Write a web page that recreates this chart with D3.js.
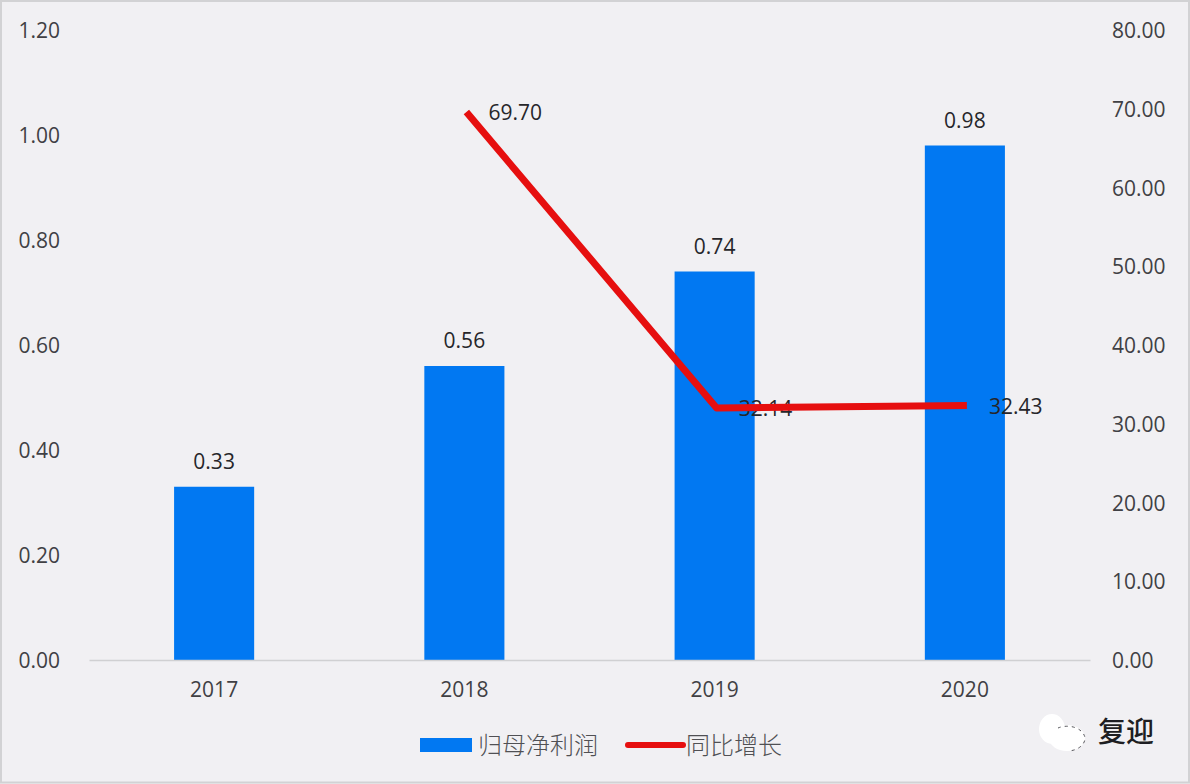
<!DOCTYPE html>
<html><head><meta charset="utf-8">
<script src="https://cdn.jsdelivr.net/npm/d3@7/dist/d3.min.js"></script>
<style>html,body{margin:0;padding:0;background:#f1f0f3}svg{display:block}text{font-family:"Open Sans","Noto Sans CJK SC",sans-serif}</style>
</head><body><svg id="c" width="1190" height="784"></svg>
<script>
const years=["2017","2018","2019","2020"];
const profit=[0.33,0.56,0.74,0.98];
const growth=[null,69.70,32.14,32.43];
const leftTicks=[0,0.2,0.4,0.6,0.8,1.0,1.2];
const rightTicks=[0,10,20,30,40,50,60,70,80];
const seriesNames=["归母净利润","同比增长"];
const watermark="复迎";

const svg=d3.select("#c");
const textCol="#404044";
svg.append("rect").attr("x",0).attr("y",0).attr("width",1190).attr("height",784).attr("fill","#f1f0f3");
svg.append("rect").attr("x",1).attr("y",1).attr("width",1188).attr("height",781.5).attr("fill","none").attr("stroke","#d2d2d4").attr("stroke-width",2);

const x=d3.scaleBand().domain(years).range([89,1090]).paddingInner(0.68).paddingOuter(0.34);
const yL=d3.scaleLinear().domain([0,1.2]).range([660,30]);
const yR=d3.scaleLinear().domain([0,80]).range([660,30]);

svg.append("g").selectAll("rect").data(years).join("rect")
 .attr("x",d=>x(d)).attr("width",x.bandwidth())
 .attr("y",(d,i)=>yL(profit[i])).attr("height",(d,i)=>660-yL(profit[i]))
 .attr("fill","#0178f2");

// axes
const axB=svg.append("g").attr("transform","translate(0,660)").call(d3.axisBottom(x).tickSize(0).tickPadding(20));
axB.select(".domain").attr("stroke","#d0d0d2").attr("stroke-width",1.5);
axB.selectAll("text").attr("font-size",21).attr("fill",textCol).attr("dy","0.32em").attr("y",30);
const axL=svg.append("g").attr("transform","translate(60,1)").call(d3.axisLeft(yL).tickValues(leftTicks).tickSize(0).tickPadding(0).tickFormat(d3.format(".2f")));
axL.select(".domain").remove();
axL.selectAll("text").attr("font-size",21).attr("fill",textCol);
const axR=svg.append("g").attr("transform","translate(1112,1)").call(d3.axisRight(yR).tickValues(rightTicks).tickSize(0).tickPadding(0).tickFormat(d3.format(".2f")));
axR.select(".domain").remove();
axR.selectAll("text").attr("font-size",21).attr("fill",textCol);

// bar labels
svg.append("g").selectAll("text").data(years).join("text")
 .attr("x",d=>x(d)+x.bandwidth()/2).attr("y",(d,i)=>yL(profit[i])-18)
 .attr("text-anchor","middle").attr("font-size",21).attr("fill","#26262a")
 .text((d,i)=>profit[i].toFixed(2));

// growth labels (under the line)
const cx=d=>x(d)+x.bandwidth()/2;
svg.append("g").selectAll("text").data(years.filter((d,i)=>growth[i]!==null)).join("text")
 .attr("x",d=>cx(d)+24).attr("y",d=>yR(growth[years.indexOf(d)])+9)
 .attr("font-size",21).attr("fill","#26262a")
 .text(d=>growth[years.indexOf(d)].toFixed(2));

// line
const line=d3.line().defined(d=>d.v!==null).x(d=>cx(d.y)+2).y(d=>yR(d.v)+1);
svg.append("path").datum(years.map((y,i)=>({y,v:growth[i]})))
 .attr("d",line).attr("fill","none").attr("stroke","#e60f0f").attr("stroke-width",7).attr("stroke-linejoin","round");

// legend
const leg=svg.append("g");
leg.append("rect").attr("x",420).attr("y",738).attr("width",52).attr("height",14).attr("fill","#0178f2");
leg.append("text").attr("x",478).attr("y",754).attr("font-size",24).attr("font-weight",300).attr("fill","#505054").text(seriesNames[0]);
leg.append("line").attr("x1",628).attr("x2",683).attr("y1",745).attr("y2",745).attr("stroke","#e60f0f").attr("stroke-width",6).attr("stroke-linecap","round");
leg.append("text").attr("x",686).attr("y",754).attr("font-size",24).attr("font-weight",300).attr("fill","#505054").text(seriesNames[1]);

// watermark
const wm=svg.append("g");
wm.append("ellipse").attr("cx",1052).attr("cy",729).attr("rx",13).attr("ry",15).attr("fill","#fff");
wm.append("ellipse").attr("cx",1067).attr("cy",738).attr("rx",18).attr("ry",13).attr("fill","#fff");
wm.append("path").attr("d","M1058 728 A18 13 0 0 1 1085 738 A18 13 0 0 1 1068 751").attr("fill","none").attr("stroke","#55555a").attr("stroke-width",1).attr("stroke-dasharray","3 4");
wm.append("text").attr("x",1098).attr("y",742).attr("font-size",28).attr("font-weight",500).attr("fill","#1e1e22").text(watermark);
</script></body></html>
